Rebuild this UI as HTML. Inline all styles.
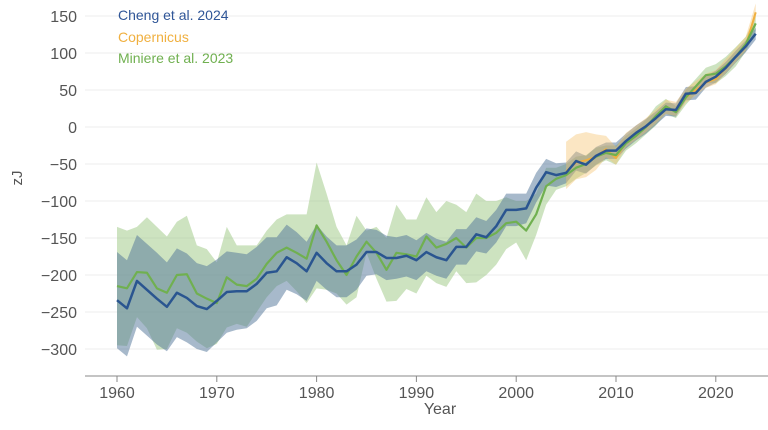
<!DOCTYPE html>
<html><head><meta charset="utf-8"><style>
body{margin:0;background:#fff;}
svg{display:block;font-family:"Liberation Sans",sans-serif;}
</style></head><body>
<svg id="chart" width="768" height="430" viewBox="0 0 768 430">
<g id="grid"></g>
<g id="bands"></g>
<g id="lines"></g>
<g id="axes"></g>
<text x="22" y="178" transform="rotate(-90 22 178)" text-anchor="middle" font-size="15" fill="#555">zJ</text>
<text x="440" y="414" text-anchor="middle" font-size="16" fill="#555">Year</text>
<g font-size="14">
<text x="118" y="20" fill="#2f5597">Cheng et al. 2024</text>
<text x="118" y="42" fill="#f0b040">Copernicus</text>
<text x="118" y="63" fill="#70b050">Miniere et al. 2023</text>
</g>
</svg>
<script>
const years = Array.from({length:65},(_,i)=>1960+i);
const cheng = [-234,-245,-208,-220,-232,-243,-224,-231,-242,-246,-235,-223,-222,-222,-212,-197,-195,-176,-184,-195,-170,-184,-195,-195,-186,-169,-169,-177,-177,-174,-180,-169,-176,-180,-162,-162,-145,-149,-134,-112,-112,-110,-82,-61,-65,-62,-46,-51,-39,-32,-32,-19,-8,1,12,24,23,45,46,61,68,80,95,109,126];
const chengUnc = [65,65,62,62,62,60,60,60,58,58,56,55,52,50,50,48,46,44,42,40,38,36,35,35,34,32,30,30,28,28,27,26,25,25,24,24,23,22,22,22,22,20,20,18,16,14,13,12,12,11,11,10,10,10,9,9,9,9,9,8,8,8,8,8,8];
const miniere = [-215,-218,-196,-197,-218,-224,-200,-199,-225,-232,-238,-203,-213,-215,-205,-185,-170,-163,-170,-178,-133,-155,-180,-200,-175,-155,-170,-193,-170,-172,-175,-148,-163,-158,-150,-163,-150,-150,-143,-130,-128,-140,-118,-80,-70,-65,-55,-50,-40,-35,-38,-22,-12,0,15,28,20,40,55,70,72,82,95,112,140];
const miniereUpper = [-135,-140,-135,-122,-135,-148,-128,-120,-160,-165,-183,-135,-160,-160,-160,-140,-125,-118,-118,-118,-48,-90,-135,-160,-120,-140,-135,-150,-105,-125,-125,-95,-115,-100,-105,-115,-90,-100,-100,-95,-100,-100,-90,-55,-55,-50,-40,-38,-28,-25,-25,-12,-2,10,28,38,28,50,65,80,85,95,108,122,150];
const copYears = years.slice(45);
const copernicus = [-60,-48,-45,-40,-30,-42,-20,-10,0,12,25,22,40,50,60,65,80,95,110,155];
const copUnc = [40,38,38,30,18,15,12,12,12,12,12,12,12,12,12,12,12,12,12,12];
const yTicks = [150,100,50,0,-50,-100,-150,-200,-250,-300];
const xTicks = [1960,1970,1980,1990,2000,2010,2020];

const NS="http://www.w3.org/2000/svg";
const X = y => 117 + (y-1960)*9.98;
const Y = v => 127 - v*0.74;
function mk(parent,tag,attrs){const e=document.createElementNS(NS,tag);for(const k in attrs)e.setAttribute(k,attrs[k]);document.getElementById(parent).appendChild(e);return e;}
yTicks.forEach(t=>{
  const g=mk('grid','line',{x1:85,x2:768,y1:Y(t),y2:Y(t),stroke:'#ececec','stroke-width':1});
  
  
  const l=mk('axes','text',{x:77,y:Y(t)+6,'text-anchor':'end','font-size':16,fill:'#555'});
  l.textContent=(t<0?'\u2212'+(-t):t);
  
  
});
const ax=mk('axes','line',{x1:85,x2:768,y1:376,y2:376,stroke:'#888','stroke-width':1});


xTicks.forEach(t=>{
  const tk=mk('axes','line',{x1:X(t),x2:X(t),y1:376,y2:382,stroke:'#888'});
  
  
  const l=mk('axes','text',{x:X(t),y:398,'text-anchor':'middle','font-size':16,fill:'#555'});
  l.textContent=t;
  
  
});
function band(xs,up,lo,fill,op,name){
  let d='M'+xs.map((y,i)=>X(y)+','+Y(up[i])).join('L');
  for(let i=xs.length-1;i>=0;i--)d+='L'+X(xs[i])+','+Y(lo[i]);
  const p=mk('bands','path',{d:d+'Z',fill:fill,'fill-opacity':op});
  
  
}
function line(xs,vs,col,w,name){
  const p=mk('lines','path',{d:'M'+xs.map((y,i)=>X(y)+','+Y(vs[i])).join('L'),fill:'none',stroke:col,'stroke-width':w,'stroke-linejoin':'round'});
  
  
}
band(years,miniereUpper,miniere.map((v,i)=>2*v-miniereUpper[i]),'#9cc882',0.5,'miniere-band');
band(years,cheng.map((v,i)=>v+chengUnc[i]),cheng.map((v,i)=>v-chengUnc[i]),'#4f7398',0.5,'cheng-band');
band(copYears,copernicus.map((v,i)=>v+copUnc[i]),copernicus.map((v,i)=>v-copUnc[i]*0.6),'#f5c06a',0.4,'copernicus-band');
line(copYears,copernicus,'#f0b040',2,'copernicus-line');
line(years,miniere,'#70b050',2.2,'miniere-line');
line(years,cheng,'#2a5590',2.5,'cheng-line');
</script>
</body></html>
